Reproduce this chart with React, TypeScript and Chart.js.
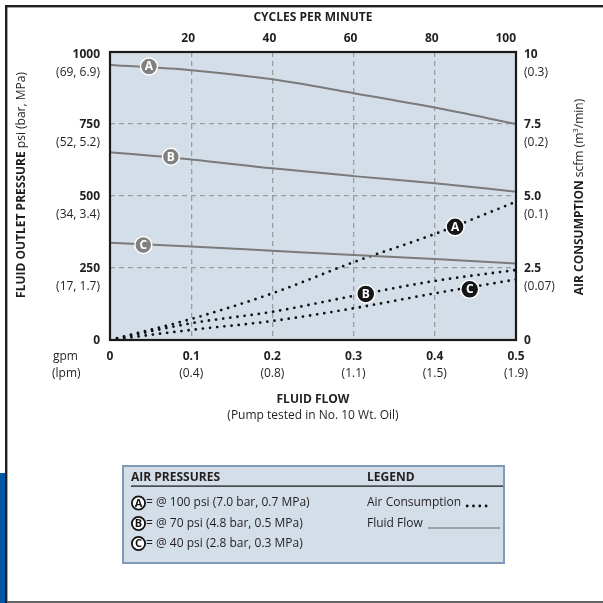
import React, { useEffect, useRef } from "react";
import { Chart, registerables } from "chart.js";
Chart.register(...registerables);

const FONT = "'Open Sans', 'DejaVu Sans', sans-serif";
const INK = "#231f20";
const PANEL = "#d4dee8";

// Fluid flow (gpm) sample positions
const flowGpm = [0, 0.1, 0.2, 0.3, 0.4, 0.5];
// Fluid outlet pressure (psi) — solid curves
const fluidFlowA = [955, 937, 905, 857, 807, 750];
const fluidFlowB = [652, 627, 596, 569, 544, 515];
const fluidFlowC = [338, 325, 310, 295, 281, 266];
// Air consumption (scfm) — dotted curves
const airConsA = [0, 0.73, 1.62, 2.7, 3.68, 4.8];
const airConsB = [0, 0.58, 0.98, 1.53, 2.05, 2.43];
const airConsC = [0, 0.35, 0.66, 1.1, 1.62, 2.1];

// Letter markers
const markerLetters = ["A", "B", "C"];
const fluidMarkerX = [0.048, 0.075, 0.041];
const fluidMarkerY = [950, 636, 330];
const airMarkerX = [0.425, 0.315, 0.443];
const airMarkerY = [3.93, 1.6, 1.76];

// Tick labels
const pressureTicks = [0, 250, 500, 750, 1000];
const pressureTickLabels = ["0", "250", "500", "750", "1000"];
const pressureSubLabels = ["", "(17, 1.7)", "(34, 3.4)", "(52, 5.2)", "(69, 6.9)"];
const airTicks = [0, 2.5, 5, 7.5, 10];
const airTickLabels = ["0", "2.5", "5.0", "7.5", "10"];
const airSubLabels = ["", "(0.07)", "(0.1)", "(0.2)", "(0.3)"];
const flowTicks = [0, 0.1, 0.2, 0.3, 0.4, 0.5];
const flowTickLabels = ["0", "0.1", "0.2", "0.3", "0.4", "0.5"];
const flowSubLabels = ["", "(0.4)", "(0.8)", "(1.1)", "(1.5)", "(1.9)"];
const cycleTicks = [20, 40, 60, 80, 100];
const cycleTickLabels = ["20", "40", "60", "80", "100"];

const legendRowTexts = [
  "= @ 100 psi (7.0 bar, 0.7 MPa)",
  "= @ 70 psi (4.8 bar, 0.5 MPa)",
  "= @ 40 psi (2.8 bar, 0.3 MPa)",
];

const zip = (xs: number[], ys: number[]) => xs.map((x, i) => ({ x, y: ys[i] }));

function text(ctx: CanvasRenderingContext2D, s: string, x: number, y: number, font: string, align: CanvasTextAlign = "center", color = INK) {
  ctx.font = font;
  ctx.fillStyle = color;
  ctx.textAlign = align;
  ctx.textBaseline = "middle";
  ctx.fillText(s, x, y);
}

function circledLetter(ctx: CanvasRenderingContext2D, l: string, x: number, y: number) {
  ctx.beginPath();
  ctx.arc(x, y, 6.6, 0, Math.PI * 2);
  ctx.fillStyle = "#fff";
  ctx.fill();
  ctx.lineWidth = 1.8;
  ctx.strokeStyle = "#111";
  ctx.stroke();
  text(ctx, l, x, y + 0.5, `bold 11px ${FONT}`, "center", "#111");
}

const decorPlugin = {
  id: "decor",
  beforeDraw(chart: any) {
    const { ctx, chartArea: a } = chart;
    ctx.save();
    ctx.fillStyle = "#fff";
    ctx.fillRect(0, 0, 603, 603);
    // blue bar
    ctx.fillStyle = "#0057a6";
    ctx.fillRect(0, 473, 5, 130);
    // frame
    ctx.fillStyle = "#231f20";
    ctx.fillRect(5, 5, 2.4, 598);
    ctx.fillRect(5, 5, 598, 2.4);
    ctx.fillStyle = "#666";
    ctx.fillRect(7, 601, 596, 2);
    // plot background
    ctx.fillStyle = PANEL;
    ctx.fillRect(a.left, a.top, a.right - a.left, a.bottom - a.top);
    ctx.restore();
  },
  afterDatasetsDraw(chart: any) {
    const { ctx } = chart;
    ctx.save();
    [6, 7].forEach((di) => {
      const meta = chart.getDatasetMeta(di);
      meta.data.forEach((el: any, i: number) => {
        text(ctx, markerLetters[i], el.x, el.y + 0.5, `bold 12px ${FONT}`, "center", "#fff");
      });
    });
    ctx.restore();
  },
  afterDraw(chart: any) {
    const { ctx, chartArea: a, scales } = chart;
    ctx.save();
    // plot border
    ctx.strokeStyle = "#1a1a1a";
    ctx.lineWidth = 2.2;
    ctx.strokeRect(a.left, a.top, a.right - a.left, a.bottom - a.top);

    const B = `bold 12px ${FONT}`;
    const R = `12px ${FONT}`;
    // left ticks
    pressureTicks.forEach((v, i) => {
      const y = Math.max(scales.y.getPixelForValue(v) + 1, 55);
      text(ctx, pressureTickLabels[i], 100, y, B, "right");
      if (pressureSubLabels[i]) text(ctx, pressureSubLabels[i], 100, y + 18, R, "right");
    });
    // right ticks
    airTicks.forEach((v, i) => {
      const y = Math.max(scales.y2.getPixelForValue(v) + 1, 55);
      text(ctx, airTickLabels[i], 524, y, B, "left");
      if (airSubLabels[i]) text(ctx, airSubLabels[i], 524, y + 18, R, "left");
    });
    // bottom ticks
    flowTicks.forEach((v, i) => {
      const x = scales.x.getPixelForValue(v);
      text(ctx, flowTickLabels[i], x, 357, B, "center");
      if (flowSubLabels[i]) text(ctx, flowSubLabels[i], x, 374, R, "center");
    });
    text(ctx, "gpm", 53, 357, R, "left");
    text(ctx, "(lpm)", 52, 374, R, "left");
    // top ticks
    cycleTicks.forEach((v, i) => {
      const x = scales.x2.getPixelForValue(v);
      const last = i === cycleTicks.length - 1;
      text(ctx, cycleTickLabels[i], last ? x : x - 3, 39, B, last ? "right" : "center");
    });
    // titles
    text(ctx, "CYCLES PER MINUTE", (a.left + a.right) / 2, 18, B, "center");
    text(ctx, "FLUID FLOW", (a.left + a.right) / 2, 400, B, "center");
    text(ctx, "(Pump tested in No. 10 Wt. Oil)", (a.left + a.right) / 2, 416, R, "center");

    // left rotated title
    ctx.save();
    ctx.translate(22, 185);
    ctx.rotate(-Math.PI / 2);
    ctx.font = B;
    const w1 = ctx.measureText("FLUID OUTLET PRESSURE").width;
    ctx.font = R;
    const w2 = ctx.measureText(" psi (bar, MPa)").width;
    let sx = -(w1 + w2) / 2;
    text(ctx, "FLUID OUTLET PRESSURE", sx, 0, B, "left");
    text(ctx, " psi (bar, MPa)", sx + w1, 0, R, "left");
    ctx.restore();

    // right rotated title
    ctx.save();
    ctx.translate(580, 197);
    ctx.rotate(-Math.PI / 2);
    ctx.font = B;
    const r1 = ctx.measureText("AIR CONSUMPTION").width;
    ctx.font = R;
    const r2 = ctx.measureText(" scfm (m").width;
    ctx.font = `8px ${FONT}`;
    const r3 = ctx.measureText("3").width;
    ctx.font = R;
    const r4 = ctx.measureText("/min)").width;
    sx = -(r1 + r2 + r3 + r4) / 2;
    text(ctx, "AIR CONSUMPTION", sx, 0, B, "left");
    text(ctx, " scfm (m", sx + r1, 0, R, "left");
    text(ctx, "3", sx + r1 + r2, -4, `8px ${FONT}`, "left");
    text(ctx, "/min)", sx + r1 + r2 + r3, 0, R, "left");
    ctx.restore();

    // legend box
    ctx.fillStyle = PANEL;
    ctx.fillRect(123, 466, 381, 97);
    ctx.strokeStyle = "#7f9ab8";
    ctx.lineWidth = 2;
    ctx.strokeRect(123, 466, 381, 97);
    text(ctx, "AIR PRESSURES", 131, 478, B, "left");
    text(ctx, "LEGEND", 367, 478, B, "left");
    ctx.fillStyle = "#111";
    ctx.fillRect(131, 485.5, 372, 1.2);
    const rowY = [503, 523.5, 543.5];
    legendRowTexts.forEach((s, i) => {
      circledLetter(ctx, markerLetters[i], 138.5, rowY[i]);
      text(ctx, s, 146, rowY[i], R, "left");
    });
    text(ctx, "Air Consumption", 367, rowY[0], R, "left");
    ctx.font = R;
    const ac = ctx.measureText("Air Consumption").width;
    ctx.fillStyle = "#111";
    for (let k = 0; k < 4; k++) {
      ctx.beginPath();
      ctx.arc(367 + ac + 6 + k * 6.3, rowY[0] + 3, 1.4, 0, Math.PI * 2);
      ctx.fill();
    }
    text(ctx, "Fluid Flow", 367, rowY[1], R, "left");
    const ff = ctx.measureText("Fluid Flow").width;
    ctx.strokeStyle = "#666";
    ctx.lineWidth = 1;
    ctx.beginPath();
    ctx.moveTo(367 + ff + 5, rowY[1] + 4.5);
    ctx.lineTo(500, rowY[1] + 4.5);
    ctx.stroke();
    ctx.restore();
  },
};

export default function App() {
  const ref = useRef<HTMLCanvasElement>(null);
  useEffect(() => {
    if (!ref.current) return;
    const fluidStyle = {
      borderColor: "#7a7a7a",
      borderWidth: 2,
      tension: 0.35,
      cubicInterpolationMode: "monotone" as const,
      pointRadius: 0,
      fill: false,
      yAxisID: "y",
      order: 2,
    };
    const airStyle = {
      borderColor: "#111",
      borderWidth: 2.8,
      borderDash: [0, 7.2],
      borderCapStyle: "round" as const,
      tension: 0.3,
      cubicInterpolationMode: "monotone" as const,
      pointRadius: 0,
      fill: false,
      yAxisID: "y2",
      order: 2,
    };
    const chart = new Chart(ref.current, {
      type: "line",
      data: {
        datasets: [
          { label: "Fluid A", data: zip(flowGpm, fluidFlowA), ...fluidStyle },
          { label: "Fluid B", data: zip(flowGpm, fluidFlowB), ...fluidStyle },
          { label: "Fluid C", data: zip(flowGpm, fluidFlowC), ...fluidStyle },
          { label: "Air A", data: zip(flowGpm, airConsA), ...airStyle },
          { label: "Air B", data: zip(flowGpm, airConsB), ...airStyle },
          { label: "Air C", data: zip(flowGpm, airConsC), ...airStyle },
          {
            label: "Fluid markers",
            data: zip(fluidMarkerX, fluidMarkerY),
            showLine: false,
            pointRadius: 8.5,
            pointBackgroundColor: "#808080",
            pointBorderColor: "#ffffff",
            pointBorderWidth: 1.5,
            yAxisID: "y",
            order: 0,
          },
          {
            label: "Air markers",
            data: zip(airMarkerX, airMarkerY),
            showLine: false,
            pointRadius: 9,
            pointBackgroundColor: "#161616",
            pointBorderColor: "#ffffff",
            pointBorderWidth: 1.5,
            yAxisID: "y2",
            order: 0,
          },
        ] as any,
      },
      plugins: [decorPlugin],
      options: {
        responsive: false,
        animation: false,
        layout: { padding: 0 },
        plugins: { legend: { display: false }, tooltip: { enabled: false } },
        scales: {
          x: {
            type: "linear",
            position: "bottom",
            min: 0,
            max: 0.5,
            ticks: { stepSize: 0.1, display: false },
            grid: { color: "#9c9c9c", lineWidth: 1.3, drawTicks: false },
            border: { display: false, dash: [5, 4] },
            afterFit: (s: any) => { s.height = 263; },
          },
          x2: {
            type: "linear",
            axis: "x",
            position: "top",
            min: 0,
            max: 100,
            ticks: { stepSize: 20, display: false },
            grid: { display: false, drawTicks: false },
            border: { display: false },
            afterFit: (s: any) => { s.height = 52; },
          },
          y: {
            type: "linear",
            position: "left",
            min: 0,
            max: 1000,
            ticks: { stepSize: 250, display: false },
            grid: { color: "#9c9c9c", lineWidth: 1.3, drawTicks: false },
            border: { display: false, dash: [5, 4] },
            afterFit: (s: any) => { s.width = 110; },
          },
          y2: {
            type: "linear",
            position: "right",
            min: 0,
            max: 10,
            ticks: { stepSize: 2.5, display: false },
            grid: { display: false, drawTicks: false },
            border: { display: false },
            afterFit: (s: any) => { s.width = 87; },
          },
        } as any,
      },
    });
    return () => chart.destroy();
  }, []);
  return (
    <div style={{ position: "fixed", left: 0, top: 0, width: 603, height: 603, background: "#fff" }}>
      <canvas ref={ref} width={603} height={603} style={{ width: 603, height: 603, display: "block" }} />
    </div>
  );
}
